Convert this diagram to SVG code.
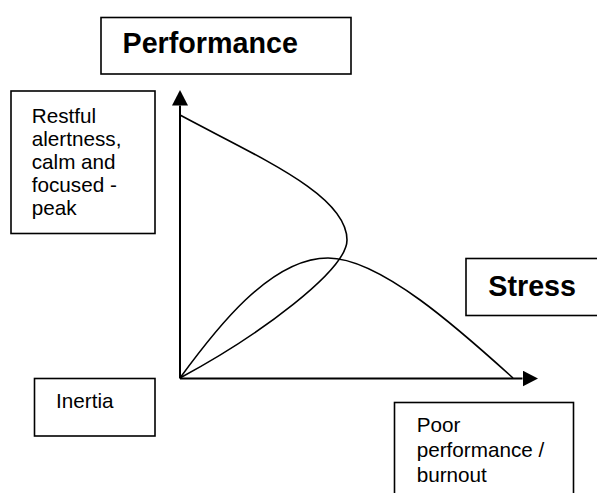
<svg xmlns="http://www.w3.org/2000/svg" width="597" height="493" viewBox="0 0 597 493">
<style>
.box{fill:#fff;stroke:#000;stroke-width:1.6}
.t{font-family:"Liberation Sans",Arial,sans-serif;font-size:20.7px;fill:#000}
.b{font-family:"Liberation Sans",Arial,sans-serif;font-size:28.7px;font-weight:bold;fill:#000}
.axis{fill:none;stroke:#000;stroke-width:2}
.curve{fill:none;stroke:#000;stroke-width:1.6}
</style>
<defs>
<marker id="ah" markerUnits="userSpaceOnUse" markerWidth="16" markerHeight="16" refX="0" refY="8" orient="auto" viewBox="0 0 16 16">
<path d="M0,0 L15.5,8 L0,16 Z" fill="#000"/>
</marker>
</defs>
<rect width="597" height="493" fill="#fff"/>
<g id="performance">
<rect class="box" x="101" y="17.5" width="250" height="56.5"/>
<text class="b" x="122.5" y="53">Performance</text>
</g>
<g id="restful">
<rect class="box" x="11" y="91" width="144" height="142.5"/>
<text class="t" x="31.7" y="123.3">Restful</text>
<text class="t" x="31.7" y="146.3">alertness,</text>
<text class="t" x="31.7" y="169.3">calm and</text>
<text class="t" x="31.7" y="192.3">focused -</text>
<text class="t" x="31.7" y="215">peak</text>
</g>
<g id="inertia">
<rect class="box" x="34.5" y="378.5" width="120.5" height="57.5"/>
<text class="t" x="56" y="408">Inertia</text>
</g>
<g id="stress">
<rect class="box" x="466" y="258.5" width="140" height="57"/>
<text class="b" x="488.3" y="296">Stress</text>
</g>
<g id="poor">
<rect class="box" x="394.5" y="402.5" width="179" height="100"/>
<text class="t" x="416.7" y="432.3">Poor</text>
<text class="t" x="416.7" y="457">performance /</text>
<text class="t" x="416.7" y="482">burnout</text>
</g>
<g id="connectors">
<line class="axis" x1="180" y1="378.5" x2="180" y2="105.5" marker-end="url(#ah)"/>
<line class="axis" x1="180" y1="378.5" x2="522.5" y2="378.5" marker-end="url(#ah)"/>
<path class="curve" d="M180,115 C260,158 347,195 347,240 C347,270 260,335 180,378"/>
<path class="curve" d="M180,378 C215,330 270,258 328,258 C380,258 460,330 513,378"/>
</g>
</svg>
